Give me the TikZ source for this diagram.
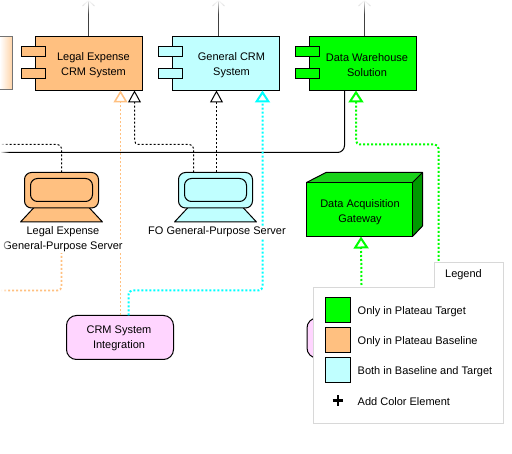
\documentclass[tikz,border=0pt]{standalone}
\usepackage{fontspec}
\setmainfont{Liberation Sans}
\usetikzlibrary{arrows.meta,fadings}
\definecolor{tgt}{HTML}{00FF00}
\definecolor{base}{HTML}{FFC080}
\definecolor{both}{HTML}{C0FFFF}
\definecolor{proc}{HTML}{FFD5FF}
\definecolor{lg}{HTML}{D8D8D8}
\definecolor{dashc}{HTML}{00FFFF}
\tikzfading[name=fadeRightOut, left color=transparent!0, right color=transparent!100]
\tikzfading[name=fadeDownOut, top color=transparent!0, bottom color=transparent!100]
\tikzset{
  box/.style={draw=black,line width=1pt,minimum width=107pt,minimum height=54pt,inner sep=0pt},
  boxtext/.style={inner sep=0pt,align=center,font=\fontsize{11}{15}\selectfont},
  port/.style={draw=black,line width=1pt,minimum width=24pt,minimum height=10.5pt,inner sep=0pt},
  proctext/.style={draw=black,line width=1pt,rounded corners=10pt,fill=proc,minimum width=107pt,minimum height=44pt,inner sep=0pt,align=center,font=\fontsize{11}{15}\selectfont},
  lab/.style={fill=white,inner sep=0.5pt,align=center,font=\fontsize{11}{15}\selectfont},
  swatch/.style={draw=black,line width=1pt,minimum width=25pt,minimum height=24.5pt,inner sep=0pt},
  legtext/.style={anchor=west,inner sep=0pt,font=\fontsize{11}{12}\selectfont},
  rel/.style={draw=black,line width=1pt,dash pattern=on 2pt off 2pt,rounded corners=4pt},
  relhead/.style={-{Triangle[open,length=12pt,width=13pt,line width=1pt]}},
  colhead/.style={-{Triangle[open,length=12pt,width=15pt,line width=2pt]}},
  colrel/.style={line width=2pt,dash pattern=on 2pt off 2pt,rounded corners=4pt},
  wire/.style={draw=black,line width=1pt,rounded corners=7pt},
  topwire/.style={draw=black!75,line width=1pt},
}
\newcommand{\srv}[3]{% x-centre, fill, name
  \draw[line width=1pt,fill=#2,line join=round] (#1-41,222)--(#1-27,207)--(#1+27,207)--(#1+41,222)--cycle;
  \node[draw=black,line width=1pt,fill=#2,rounded corners=7pt,minimum width=74pt,minimum height=35.5pt,inner sep=0pt] (#3) at (#1,190.25) {};
  \draw[line width=1pt,rounded corners=7pt] (#1-31,178.5) rectangle (#1+31,201.5);
}
\begin{document}
\begin{tikzpicture}[x=1pt,y=-1pt]
\useasboundingbox (0,0) rectangle (512,454);
\begin{scope}
\clip (0,0) rectangle (512,454);

% partly visible shapes
\shade[left color=white,right color=base!70] (0,36.5) rectangle (12.5,90);
\draw[draw=black!55,line width=1pt] (0,36.5) -- (12.5,36.5) -- (12.5,90) -- (0,90);
\node[draw=black,line width=1pt,fill=proc,rounded corners=10pt,minimum width=60pt,minimum height=40pt] (other) at (337,338) {};

% main nodes
\node[box,fill=base] (legal) at (89,63.25) {};
\node[boxtext] (legalt) at (93.5,65) {Legal Expense\\CRM System};
\node[port,fill=base] (lp1) at (33.5,51.75) {};
\node[port,fill=base] (lp2) at (33.5,73.75) {};
\node[box,fill=both] (crm) at (226,63.25) {};
\node[boxtext] (crmt) at (231.5,65) {General CRM\\System};
\node[port,fill=both] (cp1) at (170.5,51.75) {};
\node[port,fill=both] (cp2) at (170.5,73.75) {};
\node[box,fill=tgt] (dw) at (363,63.25) {};
\node[boxtext] (dwt) at (367,65) {Data Warehouse\\Solution};
\node[port,fill=tgt] (dp1) at (307.5,51.75) {};
\node[port,fill=tgt] (dp2) at (307.5,73.75) {};

\srv{61.5}{base}{ls}
\srv{215.5}{both}{fs}

% gateway
\fill[fill=green!80!black!90!white] (306.5,182.5)--(326,172.5)--(422.5,172.5)--(412.5,182.5)--cycle;
\fill[fill=black!40!tgt] (412.5,182.5)--(422.5,172.5)--(422.5,226)--(412.5,236.5)--cycle;
\draw[line width=1pt,line join=round] (306.5,182.5)--(326,172.5)--(422.5,172.5)--(422.5,226)--(412.5,236.5) (412.5,182.5)--(422.5,172.5);
\node[box,fill=tgt,minimum width=106pt] (gw) at (359.5,209.5) {};
\node[boxtext] (gwt) at (360,212) {Data Acquisition\\Gateway};

\node[proctext] (int) at (120,337.5) {};
\node[boxtext] (intt) at (119,338) {CRM System\\Integration};

% anchors for connectors
\coordinate (topL) at (88.5,0);
\coordinate (topC) at (218.5,0);
\coordinate (topD) at (364.5,0);
\coordinate (leftbus) at (0,152.5);
\coordinate (busend) at (344.5,152.5);
\coordinate (dwbus) at (344.5,90.2);
\coordinate (leftdash) at (0,144.5);
\coordinate (lsT) at (61.5,172.5);
\coordinate (fsT1) at (193.5,172.5);
\coordinate (fsT2) at (216.5,172.5);
\coordinate (arr1) at (134.5,90.5);
\coordinate (arr2) at (216.5,90.5);
\coordinate (arrO) at (120.5,90.5);
\coordinate (arrC) at (262.5,90.5);
\coordinate (arrD) at (356,90.5);
\coordinate (arrG) at (361,236.5);
\coordinate (intO) at (120.5,315.5);
\coordinate (intC) at (128.5,315.5);
\coordinate (lsB) at (61.5,252);
\coordinate (leftor) at (0,290.5);
\coordinate (legD) at (438.5,265);
\coordinate (legG) at (361.5,285);

% connectors
\draw[topwire] (topL) -- (legal.north -| topL);
\draw[topwire] (topC) -- (crm.north -| topC);
\draw[topwire] (topD) -- (dw.north -| topD);
\foreach \p in {topL,topC,topD}{
  \draw[black!25,line width=1pt] ([xshift=-6pt,yshift=-6pt]\p) -- ([yshift=-0.5pt]\p) -- ([xshift=6pt,yshift=-6pt]\p);
}
\draw[wire] (leftbus) -- (busend) -- (dwbus);
\draw[rel] (lsT) -- (61.5,144.5) -- (leftdash);
\draw[rel,relhead] (fsT1) -- (193.5,144.5) -- (134.5,144.5) -- (arr1);
\draw[rel,relhead] (fsT2) -- (arr2);
\draw[base,colrel,line width=1.8pt,-{Triangle[open,length=12pt,width=14pt,line width=1.5pt]}] (intO) -- (arrO);
\draw[base,colrel,line width=1.8pt] (lsB) -- (61.5,290.5) -- (leftor);
\draw[dashc,colrel,colhead] (intC) -- (128.5,290.5) -- (262.5,290.5) -- (arrC);
\draw[tgt,colrel,colhead] (legD) -- (438.5,144.5) -- (356,144.5) -- (arrD);
\draw[tgt,colrel,colhead] (legG) -- (arrG);

% server labels
\node[lab] (lt1) at (63,232) {Legal Expense};
\node[lab] (lt2) at (63,247) {General-Purpose Server};
\node[lab] (ft1) at (217,232) {FO General-Purpose Server};

% legend
\draw[lg,line width=1pt,fill=white] (313.5,287.5)--(434.5,287.5)--(434.5,262.5)--(503.5,262.5)--(503.5,423.5)--(313.5,423.5)--cycle;
\node[inner sep=0pt,font=\fontsize{11}{12}\selectfont] (legt) at (463.5,275) {Legend};
\node[swatch,fill=tgt] (s1) at (338,310) {};
\node[swatch,fill=base] (s2) at (338,340) {};
\node[swatch,fill=both] (s3) at (338,370) {};
\node[legtext] (t1) at (357.5,311.5) {Only in Plateau Target};
\node[legtext] (t2) at (357.5,341.5) {Only in Plateau Baseline};
\node[legtext] (t3) at (357.5,371.5) {Both in Baseline and Target};
\node[legtext] (t4) at (357.5,401.5) {Add Color Element};
\draw[line width=2.5pt] (332.5,400.5) -- (343,400.5) (337.75,395.5) -- (337.75,406);

% fade at the cut-off edges
\fill[white,path fading=fadeRightOut] (0,100) rectangle (9,300);
\fill[white,path fading=fadeDownOut] (70,-1) rectangle (380,14);
\end{scope}
\end{tikzpicture}
\end{document}
